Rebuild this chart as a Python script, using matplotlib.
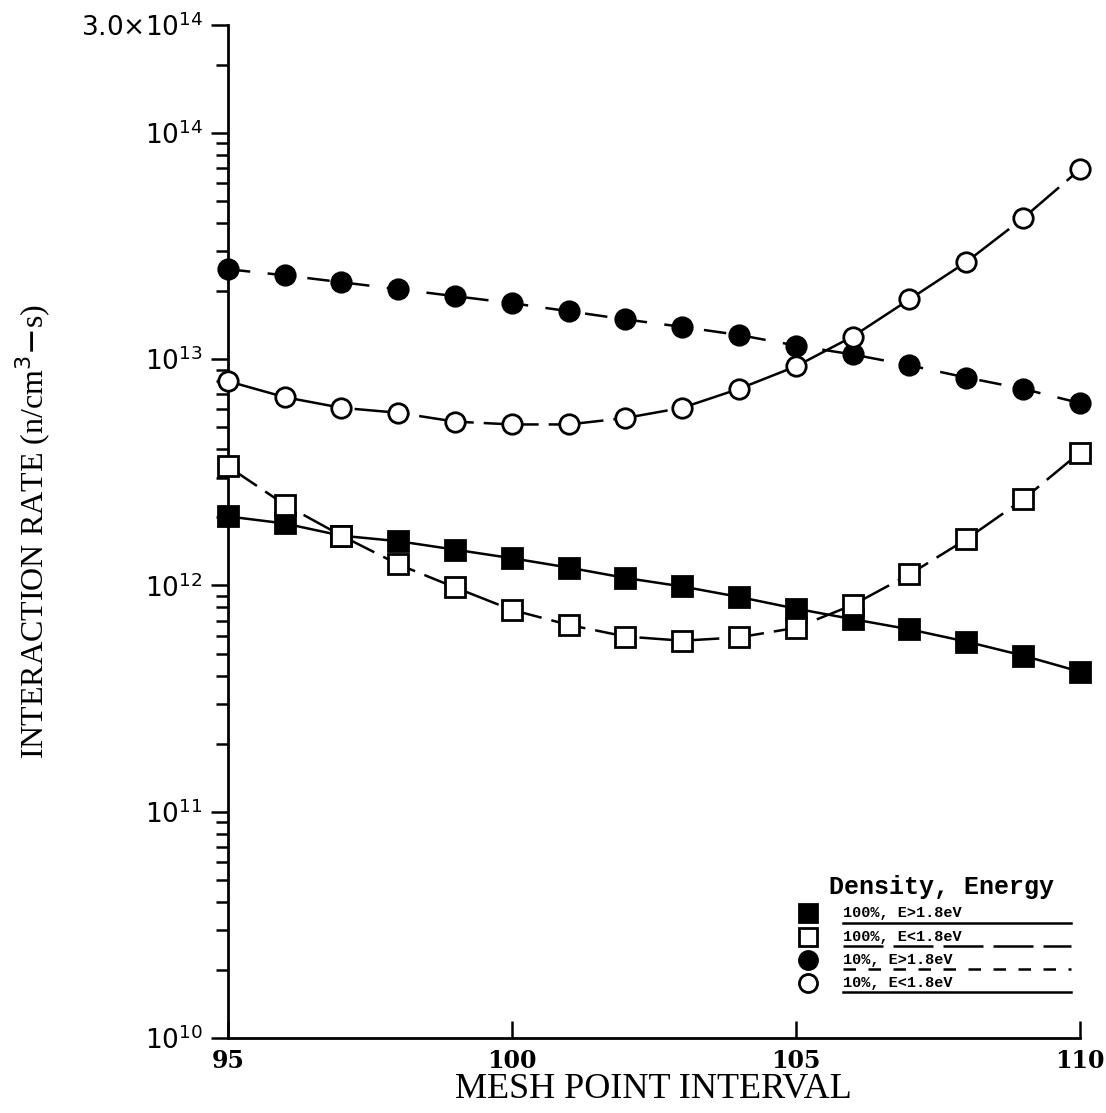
import matplotlib.pyplot as plt
import numpy as np
from matplotlib.ticker import FixedLocator, NullFormatter

mesh = np.arange(95, 111)

# 100%, E>1.8eV (filled squares)
full_fast = [2.02e12, 1.88e12, 1.66e12, 1.57e12, 1.44e12, 1.32e12, 1.20e12, 1.08e12,
             9.9e11, 8.9e11, 7.9e11, 7.1e11, 6.4e11, 5.65e11, 4.9e11, 4.16e11]
# 100%, E<1.8eV (open squares)
full_slow = [3.36e12, 2.28e12, 1.66e12, 1.24e12, 9.8e11, 7.8e11, 6.7e11, 5.95e11,
             5.7e11, 5.9e11, 6.5e11, 8.2e11, 1.12e12, 1.60e12, 2.40e12, 3.87e12]
# 10%, E>1.8eV (filled circles)
tenth_fast = [2.5e13, 2.35e13, 2.19e13, 2.04e13, 1.90e13, 1.77e13, 1.63e13, 1.50e13,
              1.39e13, 1.28e13, 1.15e13, 1.05e13, 9.4e12, 8.3e12, 7.4e12, 6.4e12]
# 10%, E<1.8eV (open circles)
tenth_slow = [8.0e12, 6.8e12, 6.1e12, 5.8e12, 5.3e12, 5.15e12, 5.15e12, 5.5e12,
              6.1e12, 7.4e12, 9.3e12, 1.26e13, 1.84e13, 2.69e13, 4.2e13, 6.9e13]

labels = ["100%, E>1.8eV", "100%, E<1.8eV", "10%, E>1.8eV", "10%, E<1.8eV"]

fig = plt.figure(figsize=(11.06, 11.13), dpi=100)
ax = fig.add_axes([0.206, 0.0674, 0.7704, 0.9101])

styles = [
    dict(marker='s', mfc='black', ls='-'),
    dict(marker='s', mfc='white', ls=(0, (14, 4))),
    dict(marker='o', mfc='black', ls=(0, (9, 7))),
    dict(marker='o', mfc='white', ls=(0, (22, 4))),
]
series = [full_fast, full_slow, tenth_fast, tenth_slow]

for ys, st in zip(series, styles):
    ax.plot(mesh, ys, color='black', lw=1.8, ms=14, mec='black', mew=2,
            marker=st['marker'], mfc=st['mfc'], ls=st['ls'], clip_on=False, zorder=3)

ax.set_yscale('log')
ax.set_xlim(95, 110)
ax.set_ylim(1e10, 3e14)

for s in ['top', 'right']:
    ax.spines[s].set_visible(False)
for s in ['left', 'bottom']:
    ax.spines[s].set_linewidth(2)

# y ticks
major = [1e10, 1e11, 1e12, 1e13, 1e14, 3e14]
ax.yaxis.set_major_locator(FixedLocator(major))
ax.set_yticklabels([r'$10^{10}$', r'$10^{11}$', r'$10^{12}$', r'$10^{13}$', r'$10^{14}$',
                    r'$3.0{\times}10^{14}$'])
minor = [m * 10.0**e for e in range(10, 14) for m in range(2, 10)] + [2e14]
ax.yaxis.set_minor_locator(FixedLocator(minor))
ax.yaxis.set_minor_formatter(NullFormatter())
ax.tick_params(axis='y', which='major', direction='out', length=12, width=1.8,
               labelsize=19, pad=6)
ax.tick_params(axis='y', which='minor', direction='out', length=9, width=1.8)

ax.set_xticks([95, 100, 105, 110])
ax.tick_params(axis='x', which='major', direction='in', length=12, width=1.8,
               labelsize=17, pad=8)
for t in ax.get_xticklabels():
    t.set_family('DejaVu Serif')
    t.set_fontweight('bold')

ax.set_xlabel('MESH POINT INTERVAL', family='Liberation Serif', fontsize=26, labelpad=0)
ax.set_ylabel(r'INTERACTION RATE (n/cm$^3$$-$s)', family='Liberation Serif',
              fontsize=23, labelpad=20)

# legend
ax.text(0.838, 0.149, 'Density, Energy', transform=ax.transAxes, ha='center',
        va='center', family='Liberation Mono', fontweight='bold', fontsize=18)
rows = [0.123, 0.0997, 0.077, 0.054]
leg_ls = ['-', (0, (16, 4)), (0, (5, 5)), '-']
for y, st, lab, lls in zip(rows, styles, labels, leg_ls):
    ax.plot([0.681], [y], transform=ax.transAxes, marker=st['marker'], mfc=st['mfc'],
            mec='black', mew=2, ms=13, color='black', clip_on=False)
    ax.text(0.722, y, lab, transform=ax.transAxes, ha='left', va='center',
            family='Liberation Mono', fontweight='bold', fontsize=11)
    ax.plot([0.722, 0.99], [y - 0.009, y - 0.009], transform=ax.transAxes,
            color='black', lw=1.8, ls=lls, clip_on=False)

fig.savefig('out.png', dpi=100)
